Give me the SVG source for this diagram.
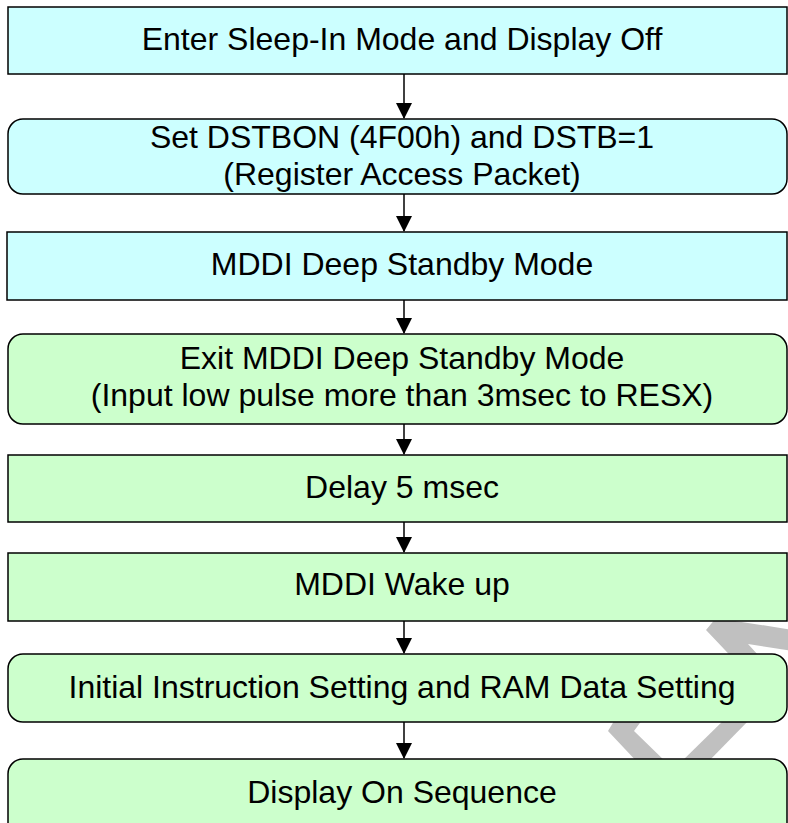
<svg xmlns="http://www.w3.org/2000/svg" width="788" height="823" viewBox="0 0 788 823">
<defs>
<style>
.c{fill:#ccffff;stroke:#000;stroke-width:1.5}
.g{fill:#ccffcc;stroke:#000;stroke-width:1.5}
.t{font-family:"Liberation Sans",Arial,sans-serif;font-size:32px;fill:#000;text-anchor:middle}
.w{fill:#c0c0c0;stroke:none}
.a{stroke:#000;stroke-width:1.5;fill:none}
</style>
<marker id="ah" markerWidth="16" markerHeight="16" viewBox="0 0 16 16" refX="15" refY="8" orient="auto" markerUnits="userSpaceOnUse">
<path d="M0,0 L16,8 L0,16 Z" fill="#000"/>
</marker>
</defs>
<rect width="788" height="823" fill="#fff"/>
<g id="watermark">
<polygon class="w" points="706,630 716,618 800,631 800,652 748,644 770,668 742,668"/>
<polygon class="w" points="608,731 617,716 645,716 634,731 669,765 640,765"/>
<polygon class="w" points="728,716 753,716 705,765 678,765"/>
</g>
<g id="connectors">
<line class="a" x1="404" y1="74" x2="404" y2="118" marker-end="url(#ah)"/>
<line class="a" x1="404" y1="194" x2="404" y2="231" marker-end="url(#ah)"/>
<line class="a" x1="404" y1="300" x2="404" y2="333" marker-end="url(#ah)"/>
<line class="a" x1="404" y1="424" x2="404" y2="454" marker-end="url(#ah)"/>
<line class="a" x1="404" y1="522" x2="404" y2="552" marker-end="url(#ah)"/>
<line class="a" x1="404" y1="621" x2="404" y2="653" marker-end="url(#ah)"/>
<line class="a" x1="404" y1="722" x2="404" y2="758" marker-end="url(#ah)"/>
</g>
<g id="n1"><rect class="c" x="8" y="7" width="779" height="67"/><text class="t" x="402" y="50">Enter Sleep-In Mode and Display Off</text></g>
<g id="n2"><rect class="c" x="8" y="119" width="779" height="75" rx="15" ry="15"/><text class="t" x="402" y="148">Set DSTBON (4F00h) and DSTB=1</text><text class="t" x="402" y="185">(Register Access Packet)</text></g>
<g id="n3"><rect class="c" x="7" y="232" width="780" height="68"/><text class="t" x="402" y="275">MDDI Deep Standby Mode</text></g>
<g id="n4"><rect class="g" x="8" y="334" width="779" height="90" rx="15" ry="15"/><text class="t" x="402" y="369">Exit MDDI Deep Standby Mode</text><text class="t" x="402" y="406">(Input low pulse more than 3msec to RESX)</text></g>
<g id="n5"><rect class="g" x="8" y="455" width="779" height="67"/><text class="t" x="402" y="498">Delay 5 msec</text></g>
<g id="n6"><rect class="g" x="8" y="553" width="779" height="68"/><text class="t" x="402" y="595">MDDI Wake up</text></g>
<g id="n7"><rect class="g" x="8" y="654" width="779" height="68" rx="15" ry="15"/><text class="t" x="402" y="698">Initial Instruction Setting and RAM Data Setting</text></g>
<g id="n8"><rect class="g" x="8" y="759" width="779" height="80" rx="15" ry="15"/><text class="t" x="402" y="803">Display On Sequence</text></g>
</svg>
